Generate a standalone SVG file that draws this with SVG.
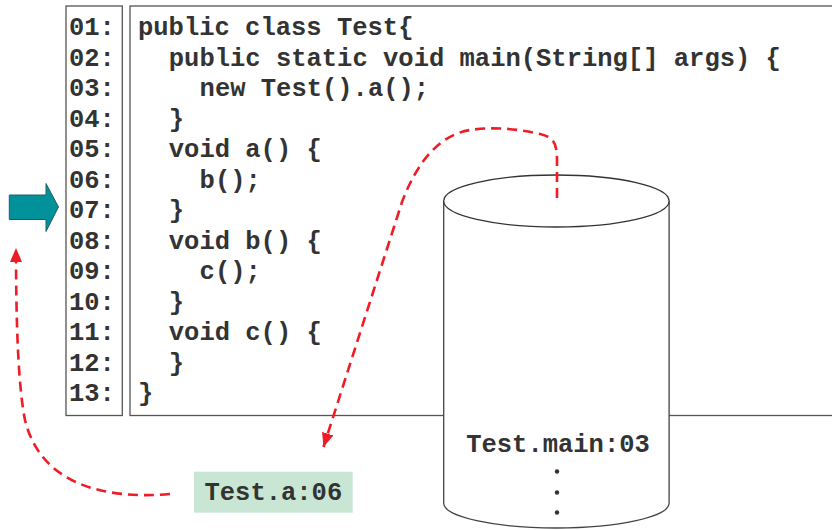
<svg xmlns="http://www.w3.org/2000/svg" width="832" height="530" viewBox="0 0 832 530">
<style>
.box{fill:#fff;stroke:#555;stroke-width:1.3}
.code{font-family:"Liberation Mono","Courier New",monospace;font-weight:bold;font-size:25.5px;fill:#333}
.flow{fill:none;stroke:#ee1c25;stroke-width:2.6;stroke-dasharray:10 6}
</style>
<defs>
<marker id="ah" viewBox="0 0 14 12" refX="14" refY="6" markerWidth="14" markerHeight="12" markerUnits="userSpaceOnUse" orient="auto">
<path d="M0,0 L14,6 L0,12 z" fill="#ee1c25"/>
</marker>
</defs>
<rect width="832" height="530" fill="#fff"/>
<g id="linenumbers">
<rect class="box" x="66" y="6" width="56.3" height="409.5"/>
<text class="code">
<tspan x="69" y="35">01:</tspan>
<tspan x="69" y="65.5">02:</tspan>
<tspan x="69" y="96">03:</tspan>
<tspan x="69" y="126.5">04:</tspan>
<tspan x="69" y="157">05:</tspan>
<tspan x="69" y="187.5">06:</tspan>
<tspan x="69" y="218">07:</tspan>
<tspan x="69" y="248.5">08:</tspan>
<tspan x="69" y="279">09:</tspan>
<tspan x="69" y="309.5">10:</tspan>
<tspan x="69" y="340">11:</tspan>
<tspan x="69" y="370.5">12:</tspan>
<tspan x="69" y="401">13:</tspan>
</text>
</g>
<g id="code">
<rect class="box" x="130" y="6" width="720" height="409.5"/>
<text class="code">
<tspan x="138" y="35">public class Test{</tspan>
<tspan x="168.8" y="65.5">public static void main(String[] args) {</tspan>
<tspan x="199.6" y="96">new Test().a();</tspan>
<tspan x="168.8" y="126.5">}</tspan>
<tspan x="168.8" y="157">void a() {</tspan>
<tspan x="199.6" y="187.5">b();</tspan>
<tspan x="168.8" y="218">}</tspan>
<tspan x="168.8" y="248.5">void b() {</tspan>
<tspan x="199.6" y="279">c();</tspan>
<tspan x="168.8" y="309.5">}</tspan>
<tspan x="168.8" y="340">void c() {</tspan>
<tspan x="168.8" y="370.5">}</tspan>
<tspan x="138" y="401">}</tspan>
</text>
</g>
<g id="pointer">
<polygon points="9.3,195 46,195 46,183.5 58.5,207 46,231.5 46,219.5 9.3,219.5" fill="#00919b" stroke="#1f5f63" stroke-width="1"/>
</g>
<g id="stack">
<path d="M443.7,201 L443.7,503 A112.7,25 0 0 0 669.1,503 L669.1,201" fill="#fff" stroke="#444" stroke-width="1.3"/>
<ellipse cx="556.4" cy="201" rx="112.7" ry="26" fill="#fff" stroke="#333" stroke-width="1.3"/>
<text class="code" x="558" y="452" text-anchor="middle">Test.main:03</text>
<circle cx="557" cy="471.5" r="2.2" fill="#333"/>
<circle cx="557" cy="492.5" r="2.2" fill="#333"/>
<circle cx="557" cy="512.5" r="2.2" fill="#333"/>
</g>
<g id="frame">
<rect x="194" y="471.7" width="158.7" height="41" fill="#c9e5d3"/>
<text class="code" x="204.5" y="500">Test.a:06</text>
</g>
<g id="connectors">
<path class="flow" d="M557,198 L557,160 C557,142 553,137 540,134 C515,128 490,127 470,130 C440,135 418,160 402,202 L323.5,447" marker-end="url(#ah)"/>
<path class="flow" d="M170,494 C100,500 40,482 25,420 C18,385 16,320 16,248" marker-end="url(#ah)"/>
</g>
</svg>
